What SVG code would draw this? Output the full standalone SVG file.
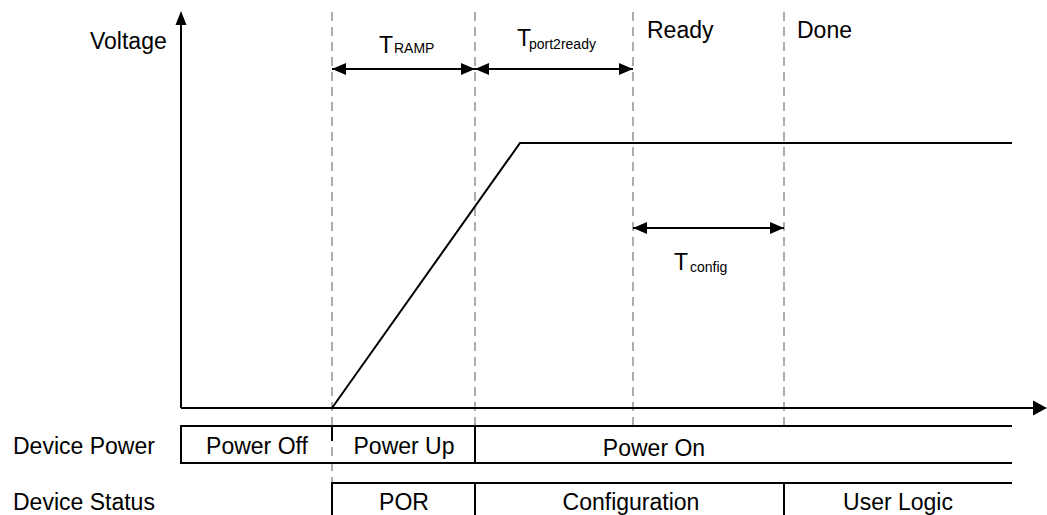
<svg xmlns="http://www.w3.org/2000/svg" width="1047" height="515" viewBox="0 0 1047 515">
<style>
text{font-family:"Liberation Sans",Arial,sans-serif;fill:#000}
.l{font-size:23px}
.c{text-anchor:middle}
.s{font-size:14px}
.ln{stroke:#000;stroke-width:2;fill:none}
.d{stroke:#999;stroke-width:1.6;stroke-dasharray:9 6;fill:none}
.dim{stroke:#000;stroke-width:2;fill:none;marker-start:url(#ah);marker-end:url(#ah)}
</style>
<defs>
<marker id="ah" viewBox="0 0 14 12" refX="14" refY="6" markerWidth="14" markerHeight="12" markerUnits="userSpaceOnUse" orient="auto-start-reverse">
<path d="M0,0 L14,6 L0,12 Z" fill="#000"/>
</marker>
</defs>
<g id="guides">
<line class="d" x1="332" y1="12" x2="332" y2="515"/>
<line class="d" x1="475" y1="12" x2="475" y2="426"/>
<line class="d" x1="633" y1="12" x2="633" y2="426"/>
<line class="d" x1="784" y1="12" x2="784" y2="426"/>
</g>
<g id="axes">
<line class="ln" x1="181" y1="408" x2="181" y2="24"/>
<path d="M175.5,25 L181,11 L186.5,25 Z" fill="#000"/>
<line class="ln" x1="181" y1="408" x2="1034" y2="408"/>
<path d="M1033,400.5 L1047,408 L1033,415.5 Z" fill="#000"/>
<text class="l" x="90" y="49">Voltage</text>
</g>
<g id="voltage-curve">
<polyline class="ln" points="332,408 520,143 1012,143"/>
</g>
<g id="connectors">
<line class="dim" x1="332" y1="69" x2="475" y2="69"/>
<line class="dim" x1="475" y1="69" x2="633" y2="69"/>
<line class="dim" x1="633" y1="228" x2="784" y2="228"/>
</g>
<g id="labels">
<text class="l" x="379" y="53">T</text><text class="s" x="394" y="53">RAMP</text>
<text class="l" x="517" y="46">T</text><text class="s" x="529" y="49">port2ready</text>
<text class="l" x="674" y="270">T</text><text class="s" x="690" y="272">config</text>
<text class="l" x="647" y="38">Ready</text>
<text class="l" x="797" y="38">Done</text>
</g>
<g id="device-power">
<text class="l" x="13" y="454">Device Power</text>
<line class="ln" x1="181" y1="426" x2="1012" y2="426"/>
<line class="ln" x1="181" y1="463" x2="1012" y2="463"/>
<line class="ln" x1="181" y1="425" x2="181" y2="464"/>
<line class="ln" x1="332" y1="426" x2="332" y2="441"/>
<line class="ln" x1="475" y1="425" x2="475" y2="464"/>
<text class="l c" x="257" y="454">Power Off</text>
<text class="l c" x="404" y="454">Power Up</text>
<text class="l c" x="654" y="456">Power On</text>
</g>
<g id="device-status">
<text class="l" x="13" y="510">Device Status</text>
<line class="ln" x1="331" y1="483" x2="1012" y2="483"/>
<line class="ln" x1="332" y1="482" x2="332" y2="515"/>
<line class="ln" x1="475" y1="482" x2="475" y2="515"/>
<line class="ln" x1="784" y1="482" x2="784" y2="515"/>
<text class="l c" x="404" y="510">POR</text>
<text class="l c" x="631" y="510">Configuration</text>
<text class="l c" x="898" y="510">User Logic</text>
</g>
</svg>
